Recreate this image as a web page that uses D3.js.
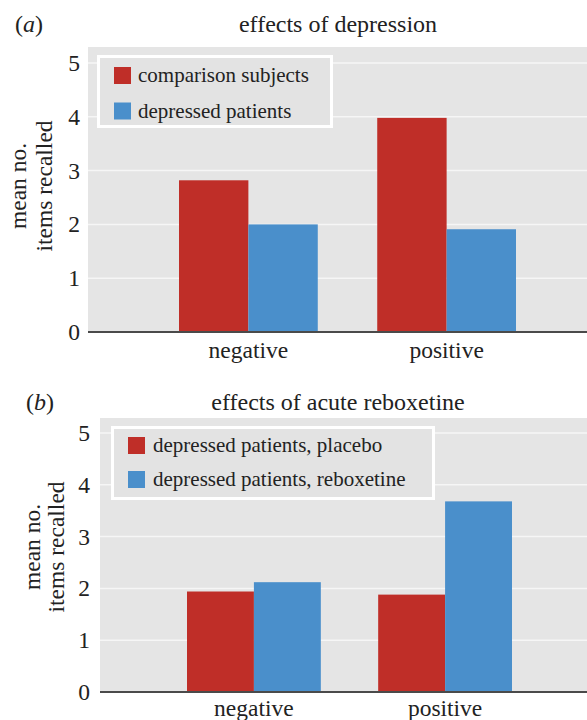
<!DOCTYPE html>
<html><head><meta charset="utf-8">
<script src="https://cdn.jsdelivr.net/npm/d3@7"></script>
</head>
<body style="margin:0"><svg id="chart" width="587" height="720" style="display:block"></svg>
<script>
// ---- data ----
const categories = ["negative", "positive"];
const yTicks = [0, 1, 2, 3, 4, 5];
const seriesA = ["comparison subjects", "depressed patients"];
const comparisonSubjects = [2.82, 3.98];
const depressedPatients = [2.0, 1.91];
const seriesB = ["depressed patients, placebo", "depressed patients, reboxetine"];
const placebo = [1.94, 1.88];
const reboxetine = [2.12, 3.68];
const colors = ["#bf2e28", "#4a8fcb"];

// ---- layout ----
const panels = [
  {tag: "a", title: "effects of depression", series: seriesA, values: [comparisonSubjects, depressedPatients],
   bgX: 88, bgY: 47, yTop: 63, yZero: 332, xRange: [179, 516], tickX: 80, tagX: 15, titleY: 32,
   ylabX: [26, 52], ylabY: 186, xlabY: 358,
   legend: {x: 97, y: 55, w: 236, h: 73, swX: 114, rows: [75.5, 111], txtX: 138}},
  {tag: "b", title: "effects of acute reboxetine", series: seriesB, values: [placebo, reboxetine],
   bgX: 100, bgY: 418, yTop: 433, yZero: 692, xRange: [187, 512], tickX: 90, tagX: 26, titleY: 410,
   ylabX: [40, 64], ylabY: 547, xlabY: 716,
   legend: {x: 111, y: 426, w: 324, h: 74, swX: 128, rows: [445.5, 479.5], txtX: 153}}
];

const FONT = "'Liberation Serif'";
const svg = d3.select("#chart");
const W = 587;

panels.forEach(p => {
  const g = svg.append("g");
  const y = d3.scaleLinear().domain([0, 5]).range([p.yZero, p.yTop]);
  const x0 = d3.scaleBand().domain(categories).range(p.xRange).paddingInner(0.3).paddingOuter(0);
  const x1 = d3.scaleBand().domain(p.series).range([0, x0.bandwidth()]);

  g.append("rect").attr("x", p.bgX).attr("y", p.bgY).attr("width", W - p.bgX).attr("height", p.yZero - p.bgY).attr("fill", "#e5e5e5");

  g.selectAll(".grid").data(yTicks.filter(d => d > 0)).join("line")
    .attr("x1", p.bgX).attr("x2", W).attr("y1", d => y(d)).attr("y2", d => y(d))
    .attr("stroke", "#f6f6f6").attr("stroke-width", 1.5);

  categories.forEach((c, ci) => {
    p.series.forEach((s, si) => {
      g.append("rect")
        .attr("x", x0(c) + x1(s)).attr("width", x1.bandwidth())
        .attr("y", y(p.values[si][ci])).attr("height", y(0) - y(p.values[si][ci]) + 1)
        .attr("fill", colors[si]);
    });
  });

  g.append("line").attr("x1", p.bgX).attr("x2", W).attr("y1", y(0)).attr("y2", y(0))
    .attr("stroke", "#4a4a4a").attr("stroke-width", 2);

  const yAxis = d3.axisLeft(y).tickValues(yTicks).tickSize(0).tickPadding(0).tickFormat(d3.format("d"));
  const ya = g.append("g").attr("transform", `translate(${p.tickX},0)`).call(yAxis);
  ya.attr("font-family", FONT).attr("font-size", 23.5);
  ya.select(".domain").remove();
  ya.selectAll("text").attr("dy", "0.32em");

  const xAxis = d3.axisBottom(x0).tickSize(0).tickPadding(0);
  const xa = g.append("g").attr("transform", `translate(0,${p.xlabY})`).call(xAxis);
  xa.attr("font-family", FONT).attr("font-size", 23.5);
  xa.select(".domain").remove();
  xa.selectAll("text").attr("dy", 0).attr("y", 0);

  ["mean no.", "items recalled"].forEach((t, i) => {
    g.append("text").attr("transform", `translate(${p.ylabX[i]},${p.ylabY}) rotate(-90)`)
      .attr("text-anchor", "middle").attr("font-size", 23.5).text(t);
  });

  const tag = g.append("text").attr("x", p.tagX).attr("y", p.titleY).attr("font-size", 24);
  tag.append("tspan").text("(");
  tag.append("tspan").attr("font-style", "italic").text(p.tag);
  tag.append("tspan").text(")");
  g.append("text").attr("x", 338).attr("y", p.titleY).attr("text-anchor", "middle").attr("font-size", 24).text(p.title);

  const L = p.legend;
  g.append("rect").attr("x", L.x + 1.5).attr("y", L.y + 1.5).attr("width", L.w - 3).attr("height", L.h - 3)
    .attr("fill", "#e3e3e3").attr("stroke", "#ffffff").attr("stroke-width", 3);
  p.series.forEach((s, i) => {
    g.append("rect").attr("x", L.swX).attr("y", L.rows[i] - 8.5).attr("width", 17).attr("height", 17).attr("fill", colors[i]);
    g.append("text").attr("x", L.txtX).attr("y", L.rows[i]).attr("dy", "0.32em").attr("font-size", 21).text(s);
  });
});

svg.selectAll("text").style("font-family", FONT).attr("fill", "#222");
svg.selectAll("text").each(function () { this.getComputedTextLength(); });
</script></body></html>
